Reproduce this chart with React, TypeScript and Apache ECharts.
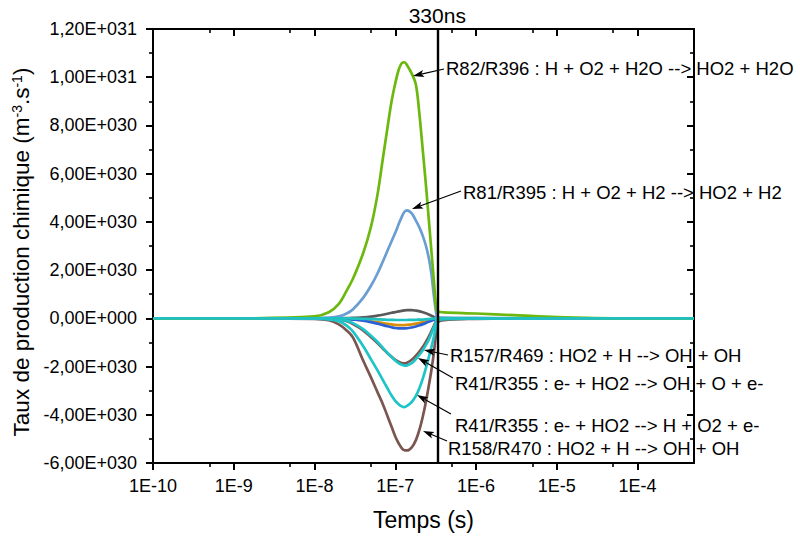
import React, { useEffect, useRef } from 'react';
import * as echarts from 'echarts';

// ---------- data ----------
const UNIT = 1e30; // values below are in units of 1E+030 m-3.s-1

const TIMES = [
  1e-10, 1e-9, 1e-8, 1.5e-8, 2e-8, 2.5e-8, 3e-8, 4e-8, 5e-8, 6e-8, 7e-8, 8e-8, 9e-8,
  1e-7, 1.1e-7, 1.2e-7, 1.3e-7, 1.4e-7, 1.6e-7, 1.8e-7, 2e-7, 2.2e-7, 2.4e-7, 2.6e-7,
  2.8e-7, 3e-7, 3.2e-7, 3.3e-7, 4e-7, 1e-6, 3e-6, 1e-5, 3e-5, 1e-4, 5e-4,
];

const R82_GREEN = [
  0, 0, 0.08, 0.25, 0.6, 1.15, 1.65, 2.7, 3.8, 5.1, 6.6, 7.9, 9.0,
  9.75, 10.3, 10.58, 10.62, 10.5, 10.15, 9.7, 8.4, 6.9, 5.5, 4.1,
  2.8, 1.6, 0.45, 0.28, 0.25, 0.2, 0.13, 0.05, 0.01, 0, 0,
];
const R81_BLUE = [
  0, 0, 0.01, 0.03, 0.08, 0.2, 0.38, 0.85, 1.35, 1.85, 2.35, 2.8, 3.2,
  3.55, 3.9, 4.2, 4.42, 4.48, 4.35, 4.05, 3.75, 3.4, 3.0, 2.5,
  1.85, 0.95, 0.25, 0.06, 0.03, 0.02, 0.01, 0, 0, 0, 0,
];
const GRAY_POS = [
  0, 0, 0, 0.002, 0.005, 0.01, 0.02, 0.04, 0.07, 0.11, 0.15, 0.19, 0.23,
  0.26, 0.29, 0.31, 0.33, 0.34, 0.34, 0.32, 0.29, 0.25, 0.21, 0.16,
  0.11, 0.06, 0.02, 0, 0, 0, 0, 0, 0, 0, 0,
];
const ORANGE_NEG = [
  0, 0, 0, -0.005, -0.01, -0.02, -0.04, -0.08, -0.12, -0.16, -0.2, -0.23, -0.25,
  -0.27, -0.28, -0.28, -0.28, -0.27, -0.25, -0.22, -0.19, -0.16, -0.13, -0.1,
  -0.07, -0.04, -0.01, 0, 0, 0, 0, 0, 0, 0, 0,
];
const ROYAL_NEG = [
  0, 0, 0, -0.005, -0.01, -0.025, -0.05, -0.1, -0.16, -0.22, -0.28, -0.33, -0.37,
  -0.4, -0.415, -0.42, -0.42, -0.41, -0.38, -0.34, -0.29, -0.24, -0.19, -0.14,
  -0.1, -0.06, -0.02, 0, 0, 0, 0, 0, 0, 0, 0,
];
const R158_BROWN = [
  0, 0, -0.02, -0.08, -0.25, -0.5, -0.8, -1.75, -2.45, -3.05, -3.55, -4.05, -4.5,
  -4.9, -5.18, -5.38, -5.47, -5.48, -5.35, -5.05, -4.6, -4.05, -3.45, -2.8,
  -2.15, -1.45, -0.6, -0.2, -0.08, -0.02, 0, 0, 0, 0, 0,
];
const R157_BROWN = [
  0, 0, 0, -0.02, -0.06, -0.12, -0.24, -0.5, -0.78, -1.02, -1.25, -1.45, -1.6,
  -1.72, -1.8, -1.86, -1.87, -1.84, -1.72, -1.55, -1.37, -1.18, -0.97, -0.76,
  -0.54, -0.32, -0.1, -0.02, 0, 0, 0, 0, 0, 0, 0,
];
const R41_OH_CYAN = [
  0, 0, 0, -0.02, -0.05, -0.1, -0.2, -0.45, -0.72, -0.97, -1.22, -1.43, -1.6,
  -1.75, -1.86, -1.93, -1.96, -1.95, -1.86, -1.69, -1.5, -1.31, -1.1, -0.88,
  -0.63, -0.38, -0.12, -0.03, -0.01, 0, 0, 0, 0, 0, 0,
];
const R41_H_CYAN = [
  0, 0, -0.01, -0.04, -0.12, -0.3, -0.55, -1.15, -1.7, -2.15, -2.55, -2.9, -3.2,
  -3.42, -3.56, -3.65, -3.68, -3.63, -3.47, -3.22, -2.88, -2.48, -2.05, -1.62,
  -1.2, -0.78, -0.32, -0.1, -0.03, -0.01, 0, 0, 0, 0, 0,
];
const TEAL_ZERO = [
  0, 0, 0, 0, 0, 0, -0.01, -0.02, -0.03, -0.04, -0.05, -0.06, -0.06,
  -0.07, -0.07, -0.07, -0.07, -0.07, -0.06, -0.06, -0.05, -0.05, -0.04, -0.03,
  -0.02, -0.01, 0, 0, 0, 0, 0, 0, 0, 0, 0,
];

const X_MIN = 1e-10;
const X_MAX = 5e-4;
const X_TICKS = [1e-10, 1e-9, 1e-8, 1e-7, 1e-6, 1e-5, 1e-4];
const X_MINOR_TICKS = [5e-10, 5e-9, 5e-8, 5e-7, 5e-6, 5e-5];
const Y_MIN = -6e30;
const Y_MAX = 1.2e31;
const Y_STEP = 2e30;
const MARK_TIME = 3.3e-7;
const MARK_LABEL = '330ns';

const ANNOTATION_TEXTS = [
  'R82/R396 : H + O2 + H2O --> HO2 + H2O',
  'R81/R395 : H + O2 + H2 --> HO2 + H2',
  'R157/R469 : HO2 + H --> OH + OH',
  'R41/R355 : e- + HO2 --> OH + O + e-',
  'R41/R355 : e- + HO2 --> H + O2 + e-',
  'R158/R470 : HO2 + H --> OH + OH',
];

// ---------- layout / style ----------
const FONT = '"Liberation Sans", Arial, Helvetica, sans-serif';
const ANNOTATION_LAYOUT = [
  { tx: 446, ty: 68, a: [444, 69, 413, 76] },
  { tx: 463, ty: 192, a: [461, 191, 412, 209] },
  { tx: 450, ty: 355, a: [448, 355, 424, 350] },
  { tx: 455, ty: 383, a: [453, 378, 418, 358] },
  { tx: 455, ty: 425, a: [451, 414, 417, 395] },
  { tx: 448, ty: 448, a: [447, 441, 423, 431] },
];

const SERIES_DEF = [
  { name: 'gray', data: GRAY_POS, color: '#5a5a5a' },
  { name: 'orange', data: ORANGE_NEG, color: '#d98e0c' },
  { name: 'royal', data: ROYAL_NEG, color: '#2a62d6' },
  { name: 'R158/R470', data: R158_BROWN, color: '#7b5550' },
  { name: 'R157/R469', data: R157_BROWN, color: '#7b5550' },
  { name: 'R41/R355 H', data: R41_H_CYAN, color: '#1dc4c8' },
  { name: 'R41/R355 OH', data: R41_OH_CYAN, color: '#1dc4c8' },
  { name: 'R81/R395', data: R81_BLUE, color: '#6a9dd2' },
  { name: 'R82/R396', data: R82_GREEN, color: '#6cb80e' },
  { name: 'teal', data: TEAL_ZERO, color: '#1fc0c0' },
];

const lg = (v: number) => Math.log10(v);

function fmtSci(v: number): string {
  if (Math.abs(v) < 1e20) return '0,00E+000';
  const sign = v < 0 ? '-' : '';
  const a = Math.abs(v);
  let e = Math.floor(Math.log10(a) + 1e-9);
  let m = Math.round((a / Math.pow(10, e)) * 100) / 100;
  if (m >= 10) { m /= 10; e += 1; }
  return sign + m.toFixed(2).replace('.', ',') + 'E+' + String(e).padStart(3, '0');
}

function arrowGraphics(x1: number, y1: number, x2: number, y2: number) {
  const dx = x2 - x1, dy = y2 - y1;
  const len = Math.hypot(dx, dy);
  const ux = dx / len, uy = dy / len;
  const nx = -uy, ny = ux;
  const L = 11, W = 3.6;
  const bx = x2 - ux * L, by = y2 - uy * L;
  const notchX = x2 - ux * L * 0.78, notchY = y2 - uy * L * 0.78;
  return [
    { type: 'line', z: 100, shape: { x1, y1, x2: notchX, y2: notchY }, style: { stroke: '#000', lineWidth: 1.2 } },
    {
      type: 'polygon', z: 100,
      shape: { points: [[x2, y2], [bx + nx * W, by + ny * W], [notchX, notchY], [bx - nx * W, by - ny * W]] },
      style: { fill: '#000' },
    },
  ];
}

export default function App() {
  const ref = useRef<HTMLDivElement>(null);

  useEffect(() => {
    if (!ref.current) return;
    const chart = echarts.init(ref.current, null, { renderer: 'svg' });

    const xMin = lg(X_MIN);
    const xMax = lg(X_MAX);
    const majorX = X_TICKS.map(lg);
    const minorX = X_MINOR_TICKS.map(lg);
    const black = { color: '#000', width: 2 };

    const series: any[] = SERIES_DEF.map((s, i) => ({
      name: s.name,
      type: 'line',
      xAxisIndex: 0,
      yAxisIndex: 0,
      data: TIMES.map((t, k) => [lg(t), s.data[k] * UNIT]),
      showSymbol: false,
      smooth: 0.35,
      lineStyle: { color: s.color, width: 2.7 },
      itemStyle: { color: s.color },
      z: 2 + i * 0.01,
      ...(i === 0
        ? {
            markLine: {
              silent: true,
              symbol: ['none', 'none'],
              z: 5,
              lineStyle: { color: '#000', width: 2.4, type: 'solid' },
              label: {
                show: true,
                position: 'end',
                formatter: MARK_LABEL,
                fontSize: 21,
                fontFamily: FONT,
                color: '#000',
                distance: 3,
              },
              data: [{ xAxis: lg(MARK_TIME) }],
            },
          }
        : {}),
    }));

    const graphic: any[] = [];
    ANNOTATION_TEXTS.forEach((txt, i) => {
      const l = ANNOTATION_LAYOUT[i];
      graphic.push({
        type: 'text',
        z: 100,
        x: l.tx,
        y: l.ty,
        style: { text: txt, fontSize: 18.5, fontFamily: FONT, fill: '#000', align: 'left', verticalAlign: 'middle' },
      });
      graphic.push(...arrowGraphics(l.a[0], l.a[1], l.a[2], l.a[3]));
    });

    chart.setOption({
      animation: false,
      backgroundColor: '#fff',
      grid: { left: 153, right: 106, top: 29, bottom: 78, containLabel: false },
      xAxis: [
        {
          type: 'value', position: 'bottom', min: xMin, max: xMax,
          axisLine: { show: true, onZero: false, lineStyle: black },
          axisTick: { show: true, inside: false, length: 7, lineStyle: black, customValues: majorX },
          axisLabel: {
            customValues: majorX, formatter: (v: number) => '1E' + Math.round(v),
            fontSize: 18, fontFamily: FONT, color: '#000', margin: 14,
          },
          splitLine: { show: false },
          name: 'Temps (s)', nameLocation: 'middle', nameGap: 45,
          nameTextStyle: { fontSize: 23, fontFamily: FONT, color: '#000' },
        },
        {
          type: 'value', position: 'bottom', min: xMin, max: xMax,
          axisLine: { show: false, onZero: false },
          axisTick: { show: true, inside: false, length: 4, lineStyle: { color: '#000', width: 1.6 }, customValues: minorX },
          axisLabel: { show: false },
          splitLine: { show: false },
        },
        {
          type: 'value', position: 'top', min: xMin, max: xMax,
          axisLine: { show: true, onZero: false, lineStyle: black },
          axisTick: { show: true, inside: true, length: 7, lineStyle: black, customValues: majorX },
          axisLabel: { show: false },
          splitLine: { show: false },
        },
        {
          type: 'value', position: 'top', min: xMin, max: xMax,
          axisLine: { show: false, onZero: false },
          axisTick: { show: true, inside: true, length: 4, lineStyle: { color: '#000', width: 1.6 }, customValues: minorX },
          axisLabel: { show: false },
          splitLine: { show: false },
        },
      ],
      yAxis: [
        {
          type: 'value', position: 'left', min: Y_MIN, max: Y_MAX, interval: Y_STEP,
          axisLine: { show: true, onZero: false, lineStyle: black },
          axisTick: { show: true, inside: false, length: 7, lineStyle: black },
          minorTick: { show: true, splitNumber: 2, length: 4, lineStyle: { color: '#000', width: 1.6 } },
          axisLabel: { formatter: fmtSci, fontSize: 18, fontFamily: FONT, color: '#000', margin: 16 },
          splitLine: { show: false },
          minorSplitLine: { show: false },
          name: '{n|Taux de production chimique (m}{s|-3}{n|.s}{s|-1}{n|)}',
          nameLocation: 'middle', nameRotate: 90, nameGap: 108,
          nameTextStyle: {
            color: '#000',
            padding: [0, 12, 0, 0],
            rich: {
              n: { fontSize: 22.5, fontFamily: FONT, color: '#000' },
              s: { fontSize: 14, fontFamily: FONT, color: '#000', verticalAlign: 'top' },
            },
          },
        },
        {
          type: 'value', position: 'right', min: Y_MIN, max: Y_MAX, interval: Y_STEP,
          axisLine: { show: true, onZero: false, lineStyle: black },
          axisTick: { show: true, inside: true, length: 7, lineStyle: black },
          minorTick: { show: true, splitNumber: 2, length: 4, lineStyle: { color: '#000', width: 1.6 } },
          axisLabel: { show: false },
          splitLine: { show: false },
          minorSplitLine: { show: false },
        },
      ],
      series,
      graphic,
    });

    return () => chart.dispose();
  }, []);

  return (
    <div
      ref={ref}
      style={{ position: 'fixed', left: 0, top: 0, width: 800, height: 541, background: '#fff' }}
    />
  );
}
